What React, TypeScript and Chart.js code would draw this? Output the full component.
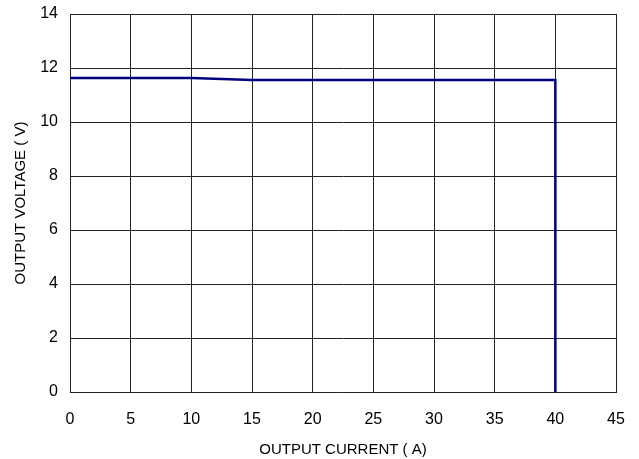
import React, { useEffect, useRef } from "react";
import { Chart, registerables } from "chart.js";
Chart.register(...registerables);

const currentA = [0, 10, 15, 40, 40];
const voltageV = [11.63, 11.63, 11.56, 11.56, 0];
const xTitle = "OUTPUT CURRENT ( A)";
const yTitle = "OUTPUT VOLTAGE ( V)";

export default function App() {
  const ref = useRef<HTMLCanvasElement>(null);
  useEffect(() => {
    const ctx = ref.current!;
    const chart = new Chart(ctx, {
      type: "scatter",
      data: {
        datasets: [
          {
            data: currentA.map((x, i) => ({ x, y: voltageV[i] })),
            showLine: true,
            borderColor: "#000080",
            borderWidth: 2.5,
            pointRadius: 0,
            tension: 0,
          },
        ],
      },
      options: {
        animation: false,
        responsive: false,
        layout: { padding: { top: 14, right: 23, left: 0, bottom: 0 } },
        plugins: { legend: { display: false }, tooltip: { enabled: false } },
        scales: {
          x: {
            type: "linear",
            min: 0,
            max: 45,
            ticks: { stepSize: 5, color: "#000", font: { family: "Liberation Sans, Arial, sans-serif", size: 16 }, padding: 18 },
            grid: { color: "#222", lineWidth: 1, drawTicks: false },
            border: { color: "#222", width: 1 },
            title: { display: true, text: xTitle, color: "#000", font: { family: "Liberation Sans Narrow, Arial Narrow, sans-serif", size: 15 }, padding: { top: 4, bottom: 0 } },
            afterFit: (s: any) => { s.height = 67; s.paddingLeft = 0; s.paddingRight = 0; },
          },
          y: {
            type: "linear",
            min: 0,
            max: 14,
            ticks: { stepSize: 2, color: "#000", font: { family: "Liberation Sans, Arial, sans-serif", size: 16 }, padding: 12 },
            grid: { color: "#222", lineWidth: 1, drawTicks: false },
            border: { color: "#222", width: 1 },
            title: { display: true, text: yTitle, color: "#000", font: { family: "Liberation Sans Narrow, Arial Narrow, sans-serif", size: 15 }, padding: { top: 12, bottom: 0 } },
            afterFit: (s: any) => { s.width = 70; s.paddingTop = 0; s.paddingBottom = 0; },
          },
        },
      },
    });
    return () => chart.destroy();
  }, []);
  return (
    <div style={{ position: "fixed", left: 0, top: 0, width: 639, height: 459, background: "#fff" }}>
      <canvas ref={ref} width={639} height={459} style={{ width: 639, height: 459 }} />
    </div>
  );
}
